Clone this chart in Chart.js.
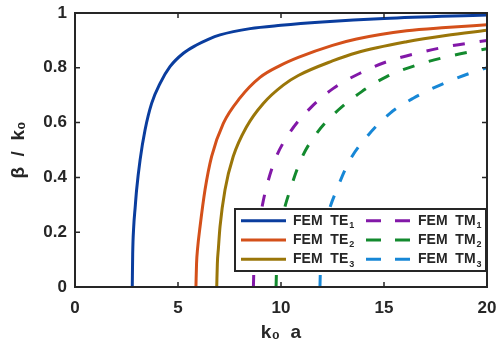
<!DOCTYPE html>
<html>
<head>
<meta charset="utf-8">
<script src="https://cdn.jsdelivr.net/npm/chart.js@4"></script>
<style>
  html, body { margin: 0; padding: 0; background: #fff; }
  #wrap { width: 500px; height: 350px; }
</style>
</head>
<body>
<div id="wrap"><canvas id="chart"></canvas></div>
<script>
// dados: k0*a e beta/k0
const te1K = [2.78, 2.8, 2.85, 2.92, 2.99, 3.16, 3.4, 3.72, 4.13, 4.61, 5.26, 5.9, 6.47, 7.04, 8.5, 10, 12, 15, 20];
const te1B = [0, 0.12, 0.22, 0.29, 0.354, 0.464, 0.573, 0.67, 0.743, 0.804, 0.853, 0.883, 0.904, 0.92, 0.943, 0.955, 0.967, 0.98, 0.993];
const te2K = [5.87, 5.9, 5.95, 6.07, 6.31, 6.63, 7.2, 8.01, 8.98, 9.95, 10.84, 12.5, 13.67, 16.1, 18, 20];
const te2B = [0, 0.085, 0.14, 0.22, 0.354, 0.476, 0.597, 0.69, 0.765, 0.808, 0.838, 0.882, 0.905, 0.935, 0.947, 0.957];
const te3K = [6.88, 6.91, 6.96, 7.04, 7.28, 7.68, 8.33, 9.14, 10.11, 10.84, 12.5, 13.67, 16.1, 18, 20];
const te3B = [0, 0.085, 0.14, 0.22, 0.354, 0.476, 0.585, 0.67, 0.737, 0.772, 0.825, 0.855, 0.895, 0.918, 0.937];
const tm1K = [8.66, 8.69, 8.75, 8.86, 9.0, 9.22, 9.71, 10.44, 11.41, 12.54, 13.83, 15.13, 16.59, 18.04, 20];
const tm1B = [0, 0.08, 0.14, 0.2, 0.26, 0.342, 0.464, 0.565, 0.652, 0.725, 0.78, 0.822, 0.853, 0.877, 0.9];
const tm2K = [9.76, 9.79, 9.85, 9.96, 10.12, 10.44, 11.0, 11.73, 12.78, 13.92, 15.13, 16.59, 18.04, 20];
const tm2B = [0, 0.08, 0.14, 0.2, 0.27, 0.354, 0.47, 0.561, 0.646, 0.713, 0.768, 0.81, 0.84, 0.87];
const tm3K = [11.89, 11.92, 11.98, 12.1, 12.3, 12.7, 13.35, 14.24, 15.29, 16.42, 17.72, 19.17, 20];
const tm3B = [0, 0.08, 0.14, 0.2, 0.27, 0.354, 0.464, 0.555, 0.634, 0.689, 0.737, 0.78, 0.8];

const labels = ['FEM  TE₁', 'FEM  TE₂', 'FEM  TE₃', 'FEM  TM₁', 'FEM  TM₂', 'FEM  TM₃'];
const xTicks = [0, 5, 10, 15, 20];
const yTicks = [0, 0.2, 0.4, 0.6, 0.8, 1];

const cores = ['#0a3d9e', '#d4501a', '#9a7609', '#8218a8', '#138a2e', '#1787d6'];
const INK = '#262626';
const FONT = 'Liberation Sans, Arial, sans-serif';

function pares(xs, ys) {
  return xs.map((x, i) => ({ x: x, y: ys[i] }));
}

const series = [[te1K, te1B], [te2K, te2B], [te3K, te3B], [tm1K, tm1B], [tm2K, tm2B], [tm3K, tm3B]];

const datasets = series.map((s, i) => ({
  label: labels[i],
  data: pares(s[0], s[1]),
  borderColor: cores[i],
  backgroundColor: cores[i],
  borderWidth: 3,
  borderDash: i < 3 ? [] : [12, 15],
  pointRadius: 0,
  cubicInterpolationMode: 'monotone',
  fill: false
}));

// moldura estilo MATLAB, ticks para dentro e legenda dentro do grafico
const moldura = {
  id: 'moldura',
  afterDatasetsDraw(chart) {
    const ctx = chart.ctx;
    const a = chart.chartArea;
    const sx = chart.scales.x, sy = chart.scales.y;
    ctx.save();
    ctx.strokeStyle = INK;
    ctx.lineWidth = 2;
    ctx.strokeRect(a.left, a.top, a.right - a.left, a.bottom - a.top);
    ctx.lineWidth = 1.5;
    ctx.beginPath();
    xTicks.forEach(v => {
      const px = sx.getPixelForValue(v);
      ctx.moveTo(px, a.bottom); ctx.lineTo(px, a.bottom - 5);
      ctx.moveTo(px, a.top); ctx.lineTo(px, a.top + 5);
    });
    yTicks.forEach(v => {
      const py = sy.getPixelForValue(v);
      ctx.moveTo(a.left, py); ctx.lineTo(a.left + 5, py);
      ctx.moveTo(a.right, py); ctx.lineTo(a.right - 5, py);
    });
    ctx.stroke();

    // legenda
    const w = 251, h = 62;
    const bx = a.right - w - 1, by = a.bottom - h - 16;
    ctx.fillStyle = '#fff';
    ctx.fillRect(bx, by, w, h);
    ctx.lineWidth = 2;
    ctx.strokeStyle = INK;
    ctx.strokeRect(bx, by, w, h);
    chart.data.datasets.forEach((ds, i) => {
      const col = Math.floor(i / 3), row = i % 3;
      const y = by + 11.7 + row * 19.3;
      const x0 = bx + (col === 0 ? 6 : 131);
      ctx.strokeStyle = ds.borderColor;
      ctx.lineWidth = 3;
      ctx.setLineDash(col === 0 ? [] : [15, 14]);
      ctx.beginPath();
      ctx.moveTo(x0, y); ctx.lineTo(x0 + 45, y);
      ctx.stroke();
      ctx.setLineDash([]);
      const base = ds.label.slice(0, -1);
      const sub = String('₀₁₂₃₄₅₆₇₈₉'.indexOf(ds.label.slice(-1)));
      ctx.fillStyle = INK;
      ctx.textBaseline = 'middle';
      ctx.textAlign = 'left';
      ctx.font = 'bold 14px ' + FONT;
      const tx = x0 + 52;
      ctx.fillText(base, tx, y);
      const wb = ctx.measureText(base).width;
      ctx.font = 'bold 9px ' + FONT;
      ctx.fillText(sub, tx + wb + 1, y + 5);
    });
    ctx.restore();
  }
};

new Chart(document.getElementById('chart'), {
  type: 'line',
  data: { datasets: datasets },
  options: {
    responsive: true,
    maintainAspectRatio: false,
    animation: false,
    layout: { padding: { top: 13, right: 13, left: 0, bottom: 0 } },
    plugins: {
      legend: { display: false },
      tooltip: { enabled: false }
    },
    scales: {
      x: {
        type: 'linear',
        min: 0,
        max: 20,
        afterBuildTicks: s => { s.ticks = xTicks.map(v => ({ value: v })); },
        grid: { display: false, drawTicks: false },
        border: { display: false },
        ticks: {
          padding: 11,
          color: INK,
          font: { family: FONT, size: 17, weight: 'bold' }
        },
        title: {
          display: true,
          text: 'k₀  a',
          color: INK,
          padding: { top: 0, bottom: 6 },
          font: { family: FONT, size: 19, weight: 'bold' }
        },
        afterFit: s => { s.height = 63; s.paddingLeft = 0; s.paddingRight = 0; }
      },
      y: {
        min: 0,
        max: 1,
        afterBuildTicks: s => { s.ticks = yTicks.map(v => ({ value: v })); },
        grid: { display: false, drawTicks: false },
        border: { display: false },
        ticks: {
          padding: 8,
          color: INK,
          font: { family: FONT, size: 17, weight: 'bold' },
          callback: v => String(Number(v.toFixed(1)))
        },
        title: {
          display: true,
          text: 'β  /  k₀',
          color: INK,
          padding: { top: 7, bottom: 0 },
          font: { family: FONT, size: 19, weight: 'bold' }
        },
        afterFit: s => { s.width = 75; s.paddingTop = 0; s.paddingBottom = 0; }
      }
    }
  },
  plugins: [moldura]
});
</script>
</body>
</html>
